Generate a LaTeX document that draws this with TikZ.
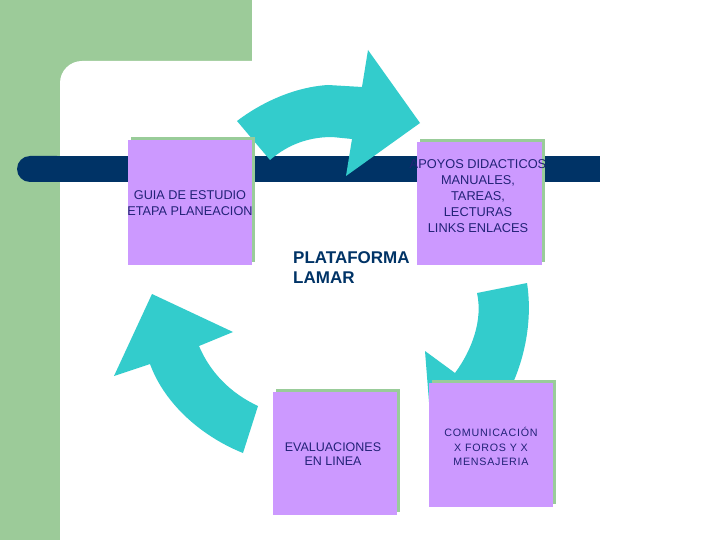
\documentclass[tikz,border=0pt]{standalone}
\usepackage{fontspec}
\setmainfont{Liberation Sans}
\usetikzlibrary{shadows}
\definecolor{bggreen}{HTML}{9CCB99}
\definecolor{navy}{HTML}{003366}
\definecolor{arrowcyan}{HTML}{33CCCC}
\definecolor{boxpurple}{HTML}{CC99FF}
\definecolor{shadowgreen}{HTML}{99CC99}
\definecolor{textblue}{RGB}{34,34,119}
\tikzset{
  card/.style={rectangle, fill=boxpurple, draw=none, inner sep=0pt,
    general shadow={fill=shadowgreen, shadow xshift=3pt, shadow yshift=3pt}},
  cardtext/.style={text=textblue, align=center, inner sep=0pt},
  bigarrow/.style={fill=arrowcyan, draw=none},
}
\begin{document}
\begin{tikzpicture}[x=1pt,y=-1pt]
\useasboundingbox (0,0) rectangle (720,540);
\clip (0,0) rectangle (720,540);
% background
\fill[white] (0,0) rectangle (720,540);
\fill[bggreen] (0,0) rectangle (252,540);
\fill[white, rounded corners=22] (60,61) rectangle (780,600);
% navy bar
\fill[navy, rounded corners=13] (17,156) rectangle (70,182);
\fill[navy] (40,156) rectangle (600,182);
% arrows
\fill[bigarrow] (237,121) .. controls (262,102) and (295,87) .. (328,85)
  -- (362,87) -- (368,50) -- (420,123) -- (346,176) -- (352,139) -- (332,137)
  .. controls (305,137) and (285,147) .. (270,160) -- cycle;
\fill[bigarrow] (477,293) -- (527,283) .. controls (532,315) and (527,352) .. (512,385)
  -- (535,392) -- (432,440) -- (425,351) -- (455,373)
  .. controls (472,350) and (483,320) .. (477,293) -- cycle;
\fill[bigarrow] (152,294) -- (233,332) -- (199,346)
  .. controls (210,372) and (230,393) .. (258,406) -- (243,453)
  .. controls (203,437) and (165,405) .. (150,364) -- (114,376) -- cycle;
% cards
\node[card, minimum width=124pt, minimum height=125pt] (guia) at (190,202.5) {};
\node[cardtext, font=\fontsize{12.7}{16}\selectfont] (guiat) at (190,203)
  {GUIA DE ESTUDIO\\ETAPA PLANEACION};
\node[card, minimum width=125pt, minimum height=123pt] (apoyos) at (479.5,203.5) {};
\node[cardtext, font=\fontsize{12.8}{16.2}\selectfont] (apoyost) at (478,196)
  {APOYOS DIDACTICOS\\MANUALES,\\TAREAS,\\LECTURAS\\LINKS ENLACES};
\node[card, minimum width=124pt, minimum height=123pt] (eval) at (335,453.5) {};
\node[cardtext, font=\fontsize{12.5}{14}\selectfont] (evalt) at (333,454)
  {EVALUACIONES\\EN LINEA};
\node[card, minimum width=124pt, minimum height=124pt] (comu) at (491,445) {};
\node[cardtext, font=\fontsize{10.7}{14.5}\selectfont\addfontfeature{LetterSpace=7}] (comut) at (491,446.5)
  {COMUNICACIÓN\\X FOROS Y X\\MENSAJERIA};
% center label
\node[text=navy, align=left, inner sep=0pt, anchor=west,
  font=\fontsize{17}{20}\selectfont\bfseries] (plat) at (293,268) {PLATAFORMA\\LAMAR};
\end{tikzpicture}
\end{document}
